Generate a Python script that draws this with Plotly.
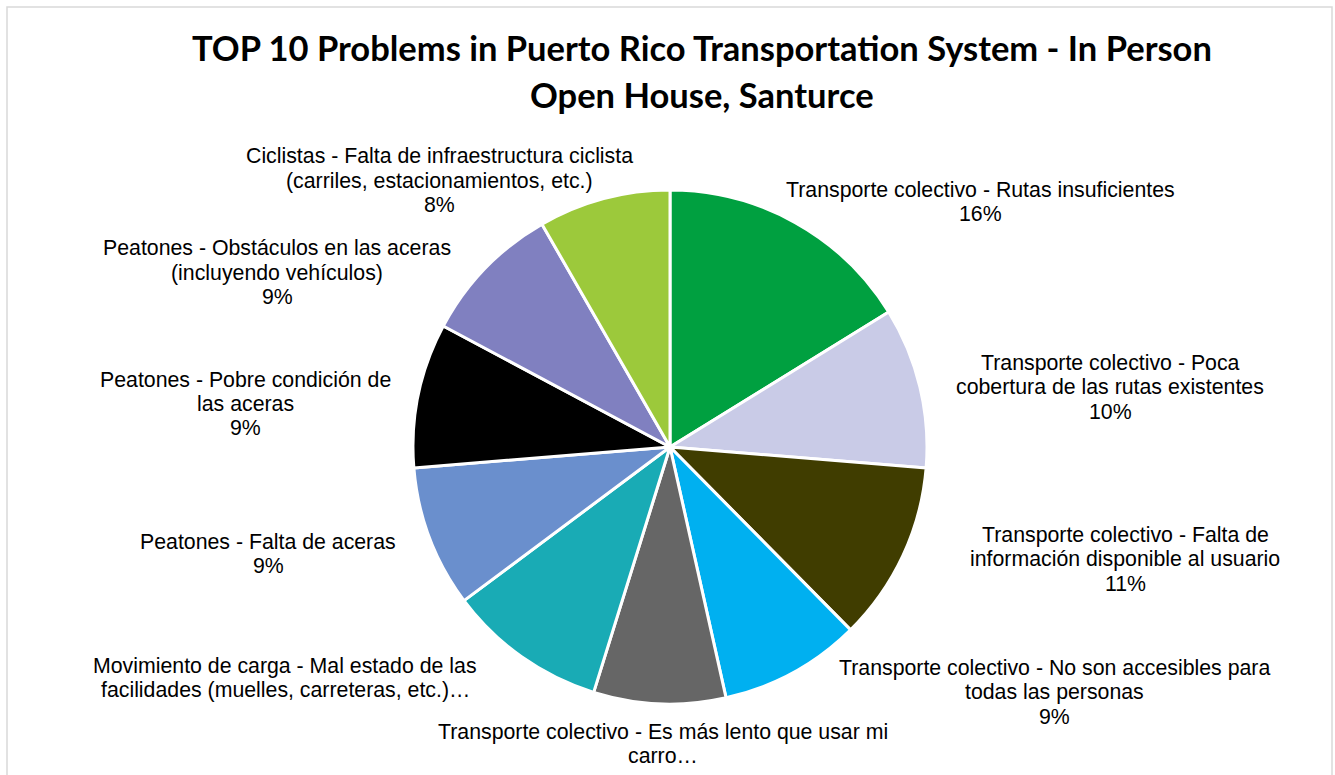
import plotly.graph_objects as go

# ---- data ----
categories = [
    "Transporte colectivo - Rutas insuficientes",
    "Transporte colectivo - Poca<br>cobertura de las rutas existentes",
    "Transporte colectivo - Falta de<br>información disponible al usuario",
    "Transporte colectivo - No son accesibles para<br>todas las personas",
    "Transporte colectivo - Es más lento que usar mi<br>carro…",
    "Movimiento de carga - Mal estado de las<br>facilidades (muelles, carreteras, etc.)…",
    "Peatones - Falta de aceras",
    "Peatones - Pobre condición de<br>las aceras",
    "Peatones - Obstáculos en las aceras<br>(incluyendo vehículos)",
    "Ciclistas - Falta de infraestructura ciclista<br>(carriles, estacionamientos, etc.)",
]
values = [16.2, 10.1, 11.3, 8.9, 8.3, 10.0, 8.9, 9.1, 8.9, 8.3]

# ---- styles ----
colors = ["#00A040", "#C9CBE7", "#403D00", "#00B0F0", "#666666",
          "#19ABB5", "#6A8FCD", "#000000", "#8080C0", "#9CC93B"]

W, H = 1335, 775
# label block centres in pixels (layout only)
label_pos = [(980, 202), (1110, 387), (1125, 559), (1054, 692), (663, 744),
             (285, 678), (268, 554), (245, 404), (277, 273), (440, 181)]
LINE_PX = 24.5
LABEL_SIZE = 21.3
LABEL_FONT = "Arial, Liberation Sans, sans-serif"

fig = go.Figure(go.Pie(
    labels=[c.replace("<br>", " ") for c in categories],
    values=values,
    sort=False,
    direction="clockwise",
    rotation=0,
    textinfo="none",
    hoverinfo="label+percent",
    marker=dict(colors=colors, line=dict(color="white", width=3)),
    domain=dict(x=[(670 - 257) / W, (670 + 257) / W],
                y=[(H - 447 - 257) / H, (H - 447 + 257) / H]),
    showlegend=False,
))

total = sum(values)
annotations = []
for cat, v, (px, py) in zip(categories, values, label_pos):
    lines = cat.split("<br>")
    if not cat.endswith("…"):
        lines.append(f"{round(v / total * 100)}%")
    n = len(lines)
    for i, ln in enumerate(lines):
        y = py + (i - (n - 1) / 2) * LINE_PX
        annotations.append(dict(
            text=ln, x=px / W, y=1 - y / H, xref="paper", yref="paper",
            xanchor="center", yanchor="middle", showarrow=False,
            font=dict(family=LABEL_FONT, size=LABEL_SIZE, color="#000000"),
        ))

title_lines = ["TOP 10 Problems in Puerto Rico Transportation System - In Person",
               "Open House, Santurce"]
for ln, ty in zip(title_lines, [48, 95]):
    annotations.append(dict(
        text=f"<b>{ln}</b>", x=702 / W, y=1 - ty / H, xref="paper", yref="paper",
        xanchor="center", yanchor="middle", showarrow=False,
        font=dict(family="Lato, Open Sans, sans-serif", size=34.5, color="#000000"),
    ))

fig.update_layout(
    width=W, height=H,
    margin=dict(l=0, r=0, t=0, b=0),
    paper_bgcolor="white",
    annotations=annotations,
    shapes=[dict(type="rect", xref="paper", yref="paper",
                 x0=7 / W, x1=1332 / W, y0=-0.2, y1=1 - 7 / H,
                 line=dict(color="#D9D9D9", width=1.5), fillcolor="rgba(0,0,0,0)")],
)

fig.write_html("out.html", config={"displayModeBar": False},
               post_script="document.body.style.margin='0';")
